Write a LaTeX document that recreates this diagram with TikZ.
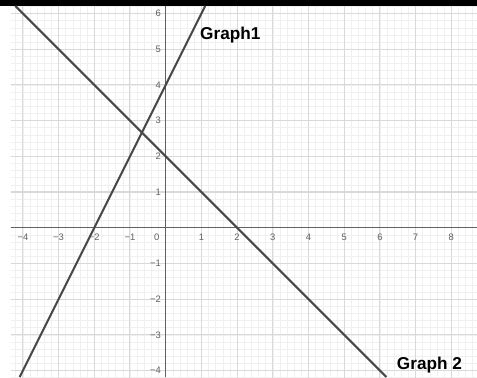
\documentclass[tikz,border=0pt]{standalone}
\usepackage{fontspec}
\setmainfont{Liberation Sans}
\begin{document}
\begin{tikzpicture}[x=1cm,y=1cm,
  minorgrid/.style={draw=black!6, line width=0.4pt},
  majorgrid/.style={draw=black!15, line width=0.8pt},
  axisline/.style={draw=black!62, line width=0.9pt},
  graphline/.style={draw=black!72, line width=1.6pt},
  ticklbl/.style={font=\fontsize{7.5}{8}\selectfont, text=black!62, inner sep=0pt},
  graphlbl/.style={font=\fontsize{13.7}{15}\selectfont\bfseries, text=black, inner sep=0pt, anchor=base west}]
\useasboundingbox (-4.641,-4.182) rectangle (8.72,6.378);
\fill[white] (-4.641,-4.182) rectangle (8.72,6.378);
\begin{scope}
  \clip (-4.333,-4.182) rectangle (8.72,6.21);
  \draw[minorgrid, step=0.2] (-4.4,-4.4) grid (8.8,6.4);
  \draw[majorgrid, step=1] (-4.4,-4.4) grid (8.8,6.4);
\end{scope}
\draw[axisline] (-4.333,0) -- (8.72,0);
\draw[axisline] (0,-4.182) -- (0,6.21);
\fill[black] (-4.641,6.21) rectangle (8.72,6.378);
\foreach \x/\t in {-4/−4,-3/−3,-2/−2,-1/−1,1/1,2/2,3/3,4/4,5/5,6/6,7/7,8/8}
  \node[ticklbl] (xl\x) at (\x,-0.26) {\t};
\node[ticklbl] (zero) at (-0.25,-0.26) {0};
\foreach \y/\t in {-4/−4,-3/−3,-2/−2,-1/−1,1/1,2/2,3/3,4/4,5/5,6/6}
  \node[ticklbl, anchor=east] (yl\y) at (-0.13,\y) {\t};
\begin{scope}
  \clip (-4.333,-4.182) rectangle (8.72,6.21);
  \coordinate (g1a) at (-4.091,-4.182);
  \coordinate (g1b) at (1.105,6.21);
  \coordinate (g2a) at (-4.21,6.21);
  \coordinate (g2b) at (6.182,-4.182);
  \draw[graphline] (g1a) -- (g1b);
  \draw[graphline] (g2a) -- (g2b);
\end{scope}
\node[graphlbl] (lab1) at (0.961,5.258) {Graph1};
\node[graphlbl] (lab2) at (6.471,-3.966) {Graph 2};
\end{tikzpicture}
\end{document}
